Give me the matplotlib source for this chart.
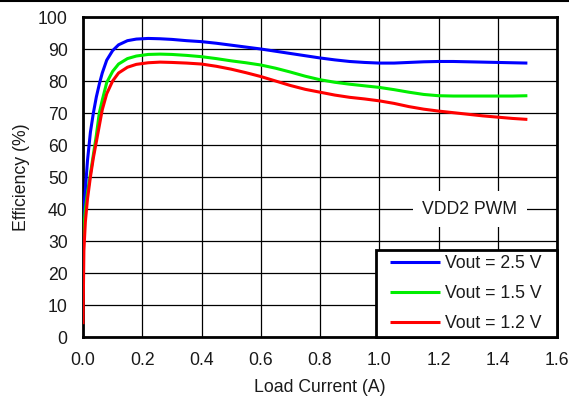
import matplotlib
matplotlib.use("Agg")
import matplotlib.pyplot as plt
from matplotlib.lines import Line2D
from matplotlib.legend_handler import HandlerLine2D

plt.rcParams['font.family'] = ['Liberation Sans', 'DejaVu Sans']

load_current = [0, 0.003, 0.008, 0.015, 0.025, 0.035, 0.045, 0.055, 0.065, 0.08, 0.1,
                0.12, 0.15, 0.18, 0.22, 0.26, 0.3, 0.35, 0.4, 0.45, 0.5, 0.55, 0.6,
                0.65, 0.7, 0.75, 0.8, 0.85, 0.9, 0.95, 1.0, 1.05, 1.1, 1.15, 1.2,
                1.25, 1.3, 1.35, 1.4, 1.45, 1.5]

eff_2v5 = [35, 40, 46, 55, 64, 70, 75, 79, 82.5, 86.5, 89.5, 91.3, 92.6, 93.1, 93.3,
           93.2, 93.0, 92.6, 92.3, 91.8, 91.2, 90.6, 90.0, 89.3, 88.6, 87.9, 87.2,
           86.6, 86.1, 85.8, 85.6, 85.6, 85.8, 86.0, 86.1, 86.1, 86.0, 85.9, 85.8,
           85.7, 85.6]

eff_1v5 = [30, 34, 40, 45, 51, 57, 63, 70, 74, 79.5, 83, 85.3, 87, 87.8, 88.3, 88.4,
           88.3, 88.0, 87.6, 87.0, 86.3, 85.7, 85.0, 84.0, 82.8, 81.5, 80.4, 79.6,
           79.0, 78.5, 78.0, 77.3, 76.5, 75.8, 75.4, 75.3, 75.3, 75.3, 75.3, 75.3,
           75.4]

eff_1v2 = [4, 27, 36, 43, 50, 56, 61, 66, 71, 76, 80, 82.5, 84.3, 85.2, 85.7, 85.9,
           85.8, 85.6, 85.3, 84.6, 83.7, 82.6, 81.4, 80.0, 78.6, 77.4, 76.5, 75.6,
           74.9, 74.4, 73.8, 73.0, 72.0, 71.2, 70.6, 70.1, 69.6, 69.1, 68.7, 68.3,
           68.0]

labels = ['Vout = 2.5 V', 'Vout = 1.5 V', 'Vout = 1.2 V']
colors = ['#0000FF', '#00EE00', '#FF0000']

x_ticks = [0.0, 0.2, 0.4, 0.6, 0.8, 1.0, 1.2, 1.4, 1.6]
y_ticks = [0, 10, 20, 30, 40, 50, 60, 70, 80, 90, 100]

FS = 12.7
TXT = '#1a1a1a'

fig = plt.figure(figsize=(5.69, 3.96), dpi=100)
ax = fig.add_axes([83/569, 1-337/396, (557-83)/569, (337-17)/396])

for y, c, l in zip([eff_2v5, eff_1v5, eff_1v2], colors, labels):
    ax.plot(load_current, y, color=c, lw=2.2, label=l, zorder=3, solid_capstyle='butt')

ax.set_xlim(0, 1.6)
ax.set_ylim(0, 100)
ax.set_xticks(x_ticks)
ax.set_xticklabels([f"{v:.1f}" for v in x_ticks])
ax.set_yticks(y_ticks)
ax.tick_params(length=0, labelsize=FS, colors=TXT)
ax.tick_params(axis='x', pad=11)
ax.tick_params(axis='y', pad=11)
ax.grid(True, color='black', lw=0.9)
for s in ax.spines.values():
    s.set_linewidth(2.0)
    s.set_color('black')

ax.set_xlabel('Load Current (A)', fontsize=FS, color=TXT, labelpad=7)
ax.set_ylabel('Efficiency (%)', fontsize=FS, color=TXT, labelpad=6)

ax.text(1.306, 40, 'VDD2 PWM', fontsize=FS, ha='center', va='center', color=TXT,
        bbox=dict(facecolor='white', edgecolor='none', pad=7), zorder=4)

px = FS * 100 / 72.0
leg_w = 181 / 474.0
leg_h = 89 / 320.0
leg = ax.legend(loc='lower right', bbox_to_anchor=(1 - leg_w, 0, leg_w, leg_h),
                mode='expand', borderaxespad=0, fancybox=False, frameon=True,
                edgecolor='black', framealpha=1, fontsize=FS,
                handlelength=59 / px, labelspacing=0.72, borderpad=0.3,
                handletextpad=5 / px,
                handler_map={Line2D: HandlerLine2D(xpad=9 / px * 72 / 100 * 100 / 72)})
leg.get_frame().set_linewidth(2.0)
leg.set_zorder(5)
for t in leg.get_texts():
    t.set_color(TXT)

fig.add_artist(Line2D([0, 1], [0.998, 0.998], color='black', lw=1.5, transform=fig.transFigure))

fig.savefig('out.png', dpi=100)
